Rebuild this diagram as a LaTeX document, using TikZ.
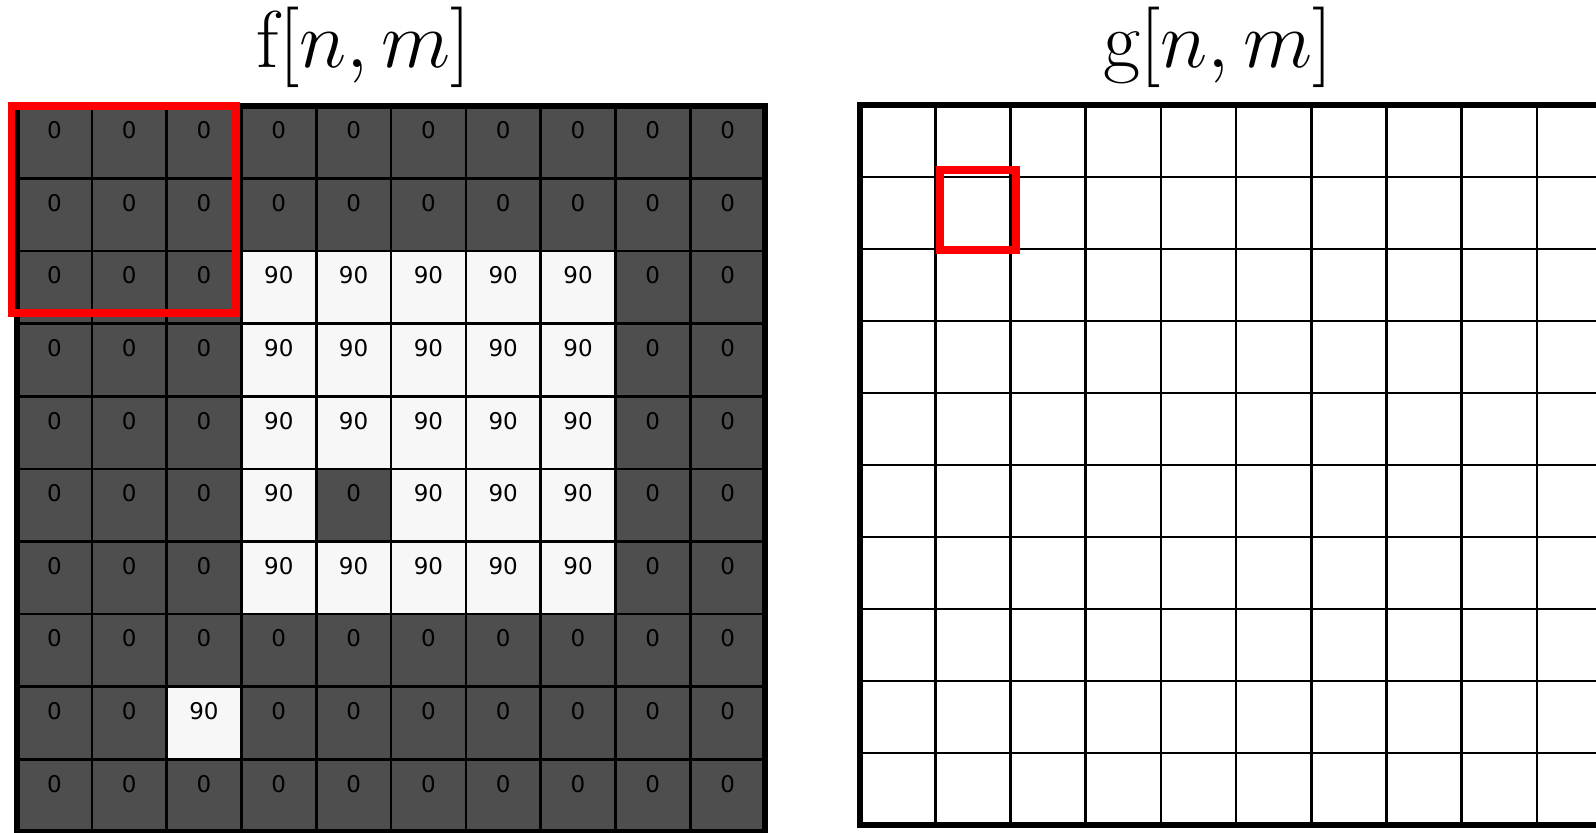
\documentclass[tikz,border=0pt]{standalone}
\usepackage{fontspec}
\newfontfamily\cellfont{DejaVu Sans}
\usetikzlibrary{positioning}
\definecolor{celldark}{RGB}{78,78,78}
\definecolor{celllight}{RGB}{247,247,247}
\definecolor{boxred}{RGB}{255,0,0}
\tikzstyle{fcell} = [
  rectangle, draw=black, line width=1.3pt,
  inner sep=0pt, outer sep=0pt,
  minimum width=37.4pt, minimum height=36.3pt
]
\tikzstyle{gcell} = [
  rectangle, draw=black, fill=white, line width=1.3pt,
  inner sep=0pt, outer sep=0pt,
  minimum width=37.6pt, minimum height=36pt
]
\tikzstyle{val} = [font=\cellfont\fontsize{11.5}{13}\selectfont, inner sep=0pt, anchor=north]
\tikzstyle{frame} = [draw=black, line width=2.8pt]
\tikzstyle{window} = [draw=boxred, line width=3.9pt]
\tikzstyle{title} = [font=\fontsize{24.88}{30}\selectfont, inner sep=0pt]
\newcommand{\bigtitle}[1]{\scalebox{1.62}{$#1$}}

\begin{document}
\begin{tikzpicture}[x=0.5pt, y=-0.5pt]

  \path[use as bounding box, clip] (0, 0) rectangle (1596, 833);

  \node[title] (ftitle) at (364, 47) {\bigtitle{\mathrm{f}[n,m]}};
  \node[title] (gtitle) at (1218, 47) {\bigtitle{\mathrm{g}[n,m]}};

  % input image f
  \foreach \row [count=\r from 0] in {
      {0,0,0,0,0,0,0,0,0,0},
      {0,0,0,0,0,0,0,0,0,0},
      {0,0,0,90,90,90,90,90,0,0},
      {0,0,0,90,90,90,90,90,0,0},
      {0,0,0,90,90,90,90,90,0,0},
      {0,0,0,90,0,90,90,90,0,0},
      {0,0,0,90,90,90,90,90,0,0},
      {0,0,0,0,0,0,0,0,0,0},
      {0,0,90,0,0,0,0,0,0,0},
      {0,0,0,0,0,0,0,0,0,0}} {
    \foreach \v [count=\c from 0] in \row {
      \ifnum\v>0 \def\cellcol{celllight}\else\def\cellcol{celldark}\fi
      \node[fcell, fill=\cellcol] (f-\r-\c) at ({54.4+74.8*\c}, {142.3+72.6*\r}) {};
      \node[val] (fv-\r-\c) at ([yshift=-7.6pt]f-\r-\c.north) {\v};
    }
  }
  \draw[frame] (17, 106) rectangle (765, 832);

  % output image g
  \foreach \r in {0,...,9}
    \foreach \c in {0,...,9}
      \node[gcell] (g-\r-\c) at ({897.6+75.2*\c}, {141+72*\r}) {};
  \draw[frame] (860, 105) rectangle (1612, 825);

  \draw[window] (11.5, 106) rectangle (236, 313);
  \draw[window] (940, 170) rectangle (1016, 250);

\end{tikzpicture}
\end{document}
